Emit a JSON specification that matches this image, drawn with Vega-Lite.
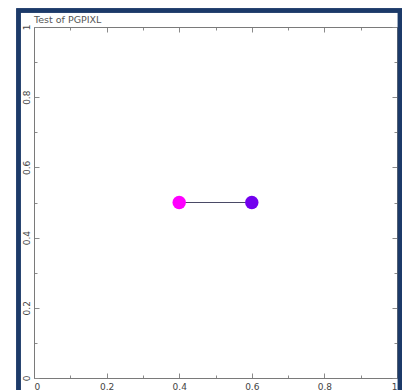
{
  "$schema": "https://vega.github.io/schema/vega-lite/v6.json",
  "autosize": "none",
  "width": 363,
  "height": 351,
  "padding": {"left": 34, "top": 27, "right": 5, "bottom": 12},
  "background": "white",
  "config": {
    "view": {"stroke": null},
    "axis": {
      "grid": false,
      "domainColor": "#7a7a7a",
      "domainWidth": 1,
      "tickColor": "#8a8a8a",
      "tickWidth": 1,
      "labelFont": "DejaVu Sans",
      "labelFontSize": 9,
      "labelColor": "#444444",
      "labelOverlap": false,
      "title": null
    }
  },
  "title": {
    "text": "Test of PGPIXL",
    "anchor": "start",
    "frame": "group",
    "font": "DejaVu Sans",
    "fontSize": 9.5,
    "fontWeight": "normal",
    "color": "#555555",
    "offset": -16
  },
  "data": {
    "values": [
      {"x": 0.4, "y": 0.5, "pixel": "A"},
      {"x": 0.6, "y": 0.5, "pixel": "B"}
    ]
  },
  "resolve": {"axis": {"x": "independent", "y": "independent"}},
  "layer": [
    {
      "mark": {"type": "rect", "fill": null, "stroke": "#1c3a69", "strokeWidth": 4.5, "clip": false},
      "encoding": {
        "x": {"datum": -0.0427, "type": "quantitative", "scale": {"domain": [0, 1], "nice": false, "zero": false}, "axis": null},
        "x2": {"datum": 1.0083},
        "y": {"datum": -0.07, "type": "quantitative", "scale": {"domain": [0, 1], "nice": false, "zero": false}, "axis": null},
        "y2": {"datum": 1.047}
      }
    },
    {
      "mark": {"type": "line", "color": "#4a4a66", "strokeWidth": 1.2},
      "encoding": {
        "x": {
          "field": "x", "type": "quantitative",
          "scale": {"domain": [0, 1], "nice": false, "zero": false},
          "axis": {
            "orient": "bottom",
            "values": [0, 0.1, 0.2, 0.3, 0.4, 0.5, 0.6, 0.7, 0.8, 0.9, 1],
            "labelExpr": "round(datum.value*10)%2==0 ? format(datum.value,'~g') : ''",
            "tickSize": {"condition": {"test": "round(datum.value*10)%2==0", "value": -5}, "value": -3},
            "labelPadding": 9
          }
        },
        "y": {
          "field": "y", "type": "quantitative",
          "scale": {"domain": [0, 1], "nice": false, "zero": false},
          "axis": {
            "orient": "left",
            "values": [0, 0.1, 0.2, 0.3, 0.4, 0.5, 0.6, 0.7, 0.8, 0.9, 1],
            "labelExpr": "round(datum.value*10)%2==0 ? format(datum.value,'~g') : ''",
            "tickSize": {"condition": {"test": "round(datum.value*10)%2==0", "value": -5}, "value": -3},
            "labelAngle": -90,
            "labelAlign": "center",
            "labelBaseline": "bottom",
            "labelPadding": 8
          }
        }
      }
    },
    {
      "mark": {"type": "circle", "opacity": 1, "size": 180},
      "encoding": {
        "x": {
          "field": "x", "type": "quantitative",
          "axis": {
            "orient": "top",
            "values": [0, 0.1, 0.2, 0.3, 0.4, 0.5, 0.6, 0.7, 0.8, 0.9, 1],
            "labels": false,
            "tickSize": {"condition": {"test": "round(datum.value*10)%2==0", "value": -5}, "value": -3}
          }
        },
        "y": {
          "field": "y", "type": "quantitative",
          "axis": {
            "orient": "right",
            "values": [0, 0.1, 0.2, 0.3, 0.4, 0.5, 0.6, 0.7, 0.8, 0.9, 1],
            "labels": false,
            "tickSize": {"condition": {"test": "round(datum.value*10)%2==0", "value": -5}, "value": -3}
          }
        },
        "color": {
          "field": "pixel", "type": "nominal",
          "scale": {"domain": ["A", "B"], "range": ["#ff00ff", "#7200ee"]},
          "legend": null
        }
      }
    }
  ]
}
